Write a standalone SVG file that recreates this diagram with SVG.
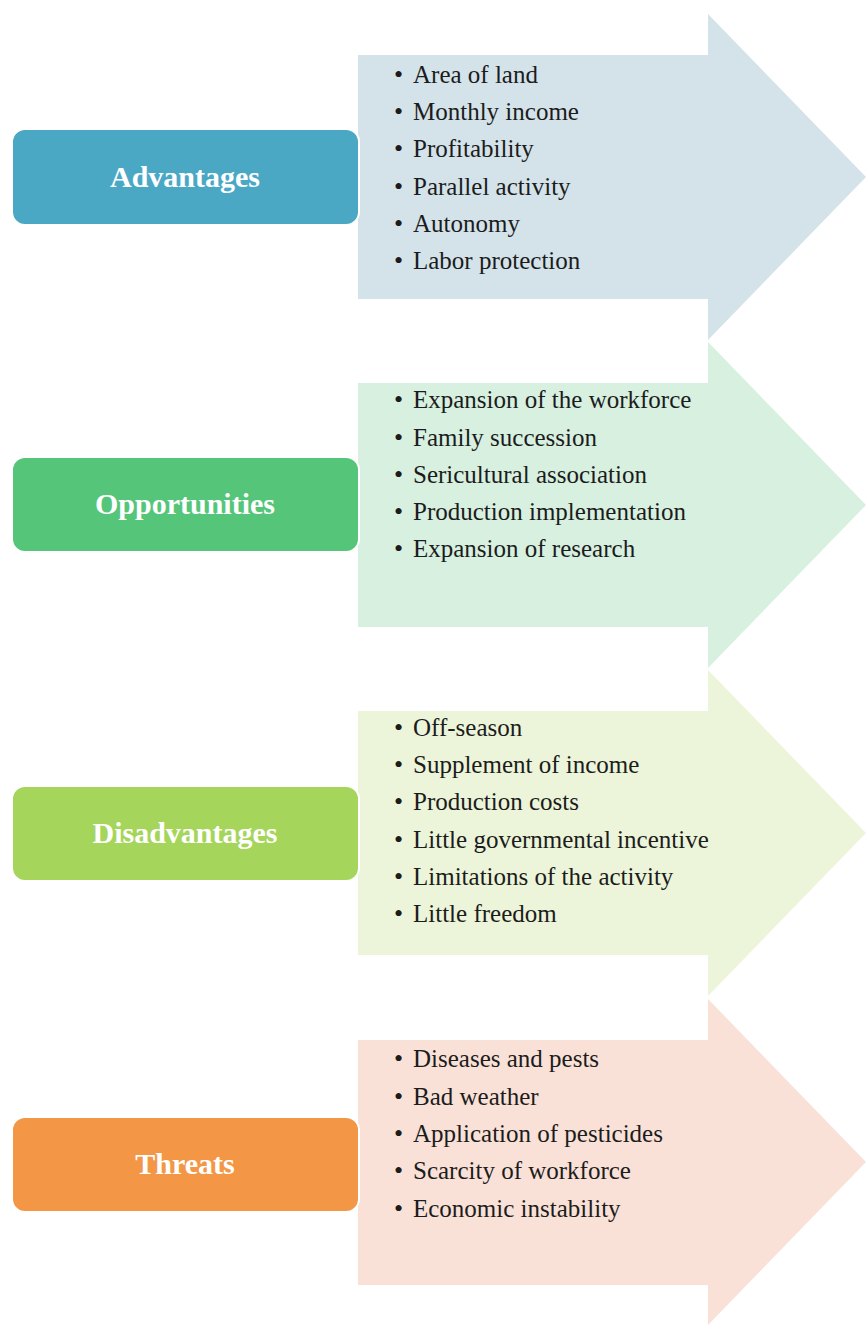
<svg xmlns="http://www.w3.org/2000/svg" width="866" height="1328" viewBox="0 0 866 1328">
  <style>
    .label-box { stroke: #ffffff; stroke-width: 2; }
    .label { font-family: "Liberation Serif", "Times New Roman", serif; font-weight: bold; font-size: 30px; fill: #ffffff; text-anchor: middle; }
    .item { font-family: "Liberation Serif", "Times New Roman", serif; font-size: 25px; fill: #1c1c1c; }
    .bullet { font-family: "Liberation Serif", "Times New Roman", serif; font-size: 26px; fill: #1c1c1c; }
  </style>
  <rect x="0" y="0" width="866" height="1328" fill="#ffffff"/>

  <!-- Block arrows carrying the item lists -->
  <g id="arrows">
    <polygon fill="#d4e3ea" points="358,55 708,55 708,14 866,177 708,340 708,299 358,299"/>
    <polygon fill="#d7f0e0" points="358,383 708,383 708,342 866,505 708,668 708,627 358,627"/>
    <polygon fill="#ecf5d9" points="358,711 708,711 708,670 866,833 708,996 708,955 358,955"/>
    <polygon fill="#f9e1d7" points="358,1040 708,1040 708,999 866,1162 708,1325 708,1285 358,1285"/>
  </g>

  <!-- Advantages -->
  <g id="advantages">
    <rect class="label-box" x="12" y="129" width="347" height="96" rx="13" fill="#4aa8c5"/>
    <text class="label" x="185" y="187">Advantages</text>
    <g id="advantages-items">
      <text class="bullet" x="394" y="83">•</text><text class="item" x="413" y="83">Area of land</text>
      <text class="bullet" x="394" y="120">•</text><text class="item" x="413" y="120">Monthly income</text>
      <text class="bullet" x="394" y="157">•</text><text class="item" x="413" y="157">Profitability</text>
      <text class="bullet" x="394" y="195">•</text><text class="item" x="413" y="195">Parallel activity</text>
      <text class="bullet" x="394" y="232">•</text><text class="item" x="413" y="232">Autonomy</text>
      <text class="bullet" x="394" y="269">•</text><text class="item" x="413" y="269">Labor protection</text>
    </g>
  </g>

  <!-- Opportunities -->
  <g id="opportunities">
    <rect class="label-box" x="12" y="457" width="347" height="95" rx="13" fill="#55c57a"/>
    <text class="label" x="185" y="514">Opportunities</text>
    <g id="opportunities-items">
      <text class="bullet" x="394" y="408">•</text><text class="item" x="413" y="408">Expansion of the workforce</text>
      <text class="bullet" x="394" y="446">•</text><text class="item" x="413" y="446">Family succession</text>
      <text class="bullet" x="394" y="483">•</text><text class="item" x="413" y="483">Sericultural association</text>
      <text class="bullet" x="394" y="520">•</text><text class="item" x="413" y="520">Production implementation</text>
      <text class="bullet" x="394" y="557">•</text><text class="item" x="413" y="557">Expansion of research</text>
    </g>
  </g>

  <!-- Disadvantages -->
  <g id="disadvantages">
    <rect class="label-box" x="12" y="786" width="347" height="95" rx="13" fill="#a5d55a"/>
    <text class="label" x="185" y="843">Disadvantages</text>
    <g id="disadvantages-items">
      <text class="bullet" x="394" y="736">•</text><text class="item" x="413" y="736">Off-season</text>
      <text class="bullet" x="394" y="773">•</text><text class="item" x="413" y="773">Supplement of income</text>
      <text class="bullet" x="394" y="810">•</text><text class="item" x="413" y="810">Production costs</text>
      <text class="bullet" x="394" y="848">•</text><text class="item" x="413" y="848">Little governmental incentive</text>
      <text class="bullet" x="394" y="885">•</text><text class="item" x="413" y="885">Limitations of the activity</text>
      <text class="bullet" x="394" y="922">•</text><text class="item" x="413" y="922">Little freedom</text>
    </g>
  </g>

  <!-- Threats -->
  <g id="threats">
    <rect class="label-box" x="12" y="1117" width="347" height="95" rx="13" fill="#f39747"/>
    <text class="label" x="185" y="1174">Threats</text>
    <g id="threats-items">
      <text class="bullet" x="394" y="1067">•</text><text class="item" x="413" y="1067">Diseases and pests</text>
      <text class="bullet" x="394" y="1105">•</text><text class="item" x="413" y="1105">Bad weather</text>
      <text class="bullet" x="394" y="1142">•</text><text class="item" x="413" y="1142">Application of pesticides</text>
      <text class="bullet" x="394" y="1179">•</text><text class="item" x="413" y="1179">Scarcity of workforce</text>
      <text class="bullet" x="394" y="1217">•</text><text class="item" x="413" y="1217">Economic instability</text>
    </g>
  </g>
</svg>
